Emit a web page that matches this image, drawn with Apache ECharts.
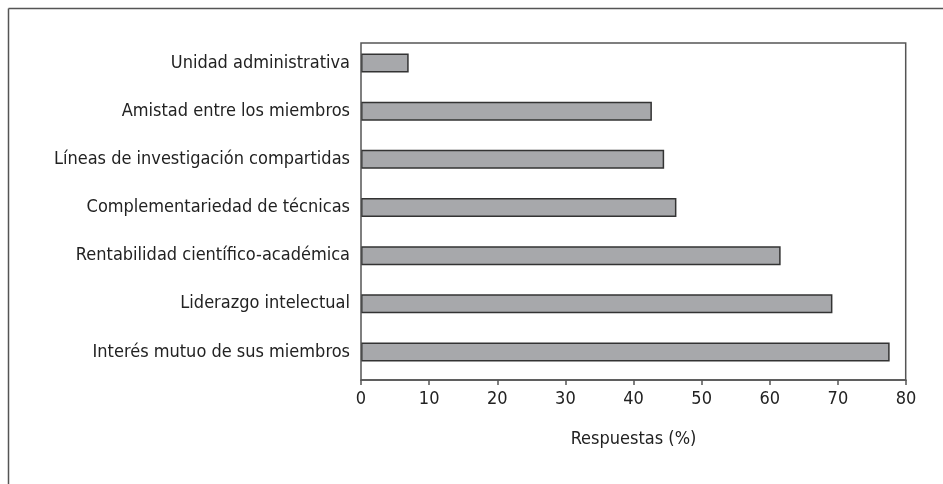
<!DOCTYPE html>
<html>
<head>
<meta charset="utf-8">
<script src="https://cdn.jsdelivr.net/npm/echarts@6/dist/echarts.min.js"></script>
<style>
html,body{margin:0;padding:0;background:#fff;}
#chart{width:943px;height:484px;}
</style>
</head>
<body>
<div id="chart"></div>
<script>
const categories = [
  "Unidad administrativa",
  "Amistad entre los miembros",
  "Líneas de investigación compartidas",
  "Complementariedad de técnicas",
  "Rentabilidad científico-académica",
  "Liderazgo intelectual",
  "Interés mutuo de sus miembros"
];
const values = [7, 42.7, 44.5, 46.3, 61.6, 69.2, 77.6];
const xTicks = [0, 10, 20, 30, 40, 50, 60, 70, 80];
const xAxisTitle = "Respuestas (%)";

const FONT = "'Liberation Sans Narrow', 'DejaVu Sans Condensed', 'Arial Narrow', sans-serif";
const chart = echarts.init(document.getElementById('chart'), null, {renderer: 'canvas'});
chart.setOption({
  animation: false,
  backgroundColor: '#ffffff',
  graphic: [
    {type: 'line', shape: {x1: 8.5, y1: 8.5, x2: 943, y2: 8.5}, style: {stroke: '#555', lineWidth: 1.5}},
    {type: 'line', shape: {x1: 8.5, y1: 8.5, x2: 8.5, y2: 484}, style: {stroke: '#555', lineWidth: 1.5}},
    {type: 'rect', shape: {x: 361, y: 43, width: 544.7, height: 337}, style: {fill: 'none', stroke: '#555', lineWidth: 1.5}, z: 10}
  ],
  grid: {
    left: 361, top: 39, right: 37, bottom: 108,
    show: false
  },
  xAxis: {
    type: 'value',
    min: xTicks[0], max: xTicks[xTicks.length - 1], interval: 10,
    offset: 4,
    splitLine: {show: false},
    axisLine: {show: true, lineStyle: {color: '#555', width: 1.5}},
    axisTick: {show: true, length: 5, lineStyle: {color: '#555', width: 1.5}},
    axisLabel: {color: '#222', fontFamily: FONT, fontSize: 18, margin: 10},
    name: xAxisTitle,
    nameLocation: 'middle',
    nameGap: 50,
    nameTextStyle: {color: '#222', fontFamily: FONT, fontSize: 18}
  },
  yAxis: {
    type: 'category',
    data: categories,
    inverse: true,
    axisLine: {show: false},
    axisTick: {show: false},
    axisLabel: {color: '#222', fontFamily: FONT, fontSize: 18, margin: 11}
  },
  series: [{
    type: 'bar',
    data: values,
    barWidth: 19,
    itemStyle: {color: '#a7a8ab', borderColor: '#333', borderWidth: 1.5}
  }]
});
</script>
</body>
</html>
